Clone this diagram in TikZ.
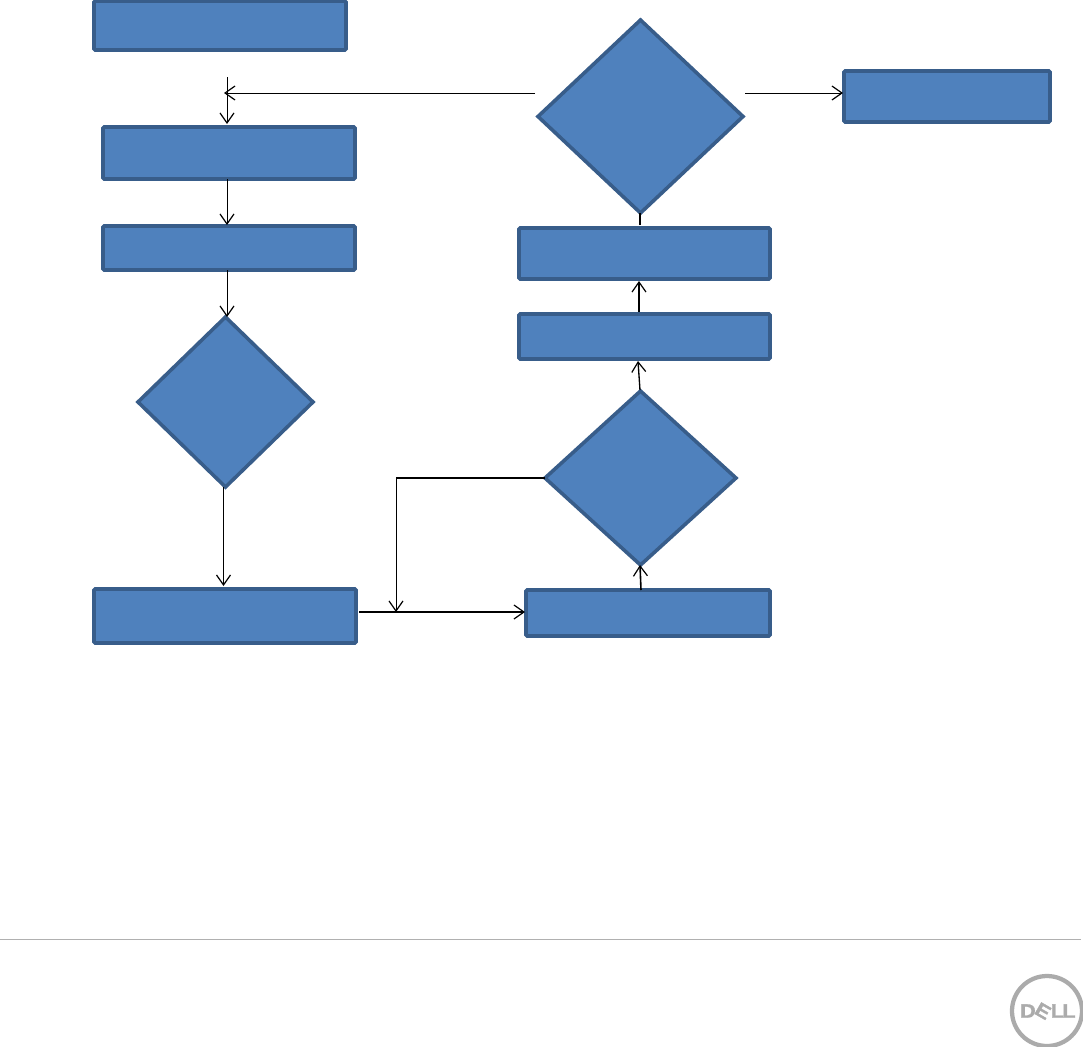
\documentclass[tikz,border=0pt]{standalone}
\usepackage{fontspec}
\setmainfont{Liberation Sans}
\newfontfamily\logofont[UprightFont=* Bold,FakeBold=1.5,FakeStretch=1.12]{Liberation Sans}
\usetikzlibrary{shapes.geometric,arrows.meta}
\definecolor{boxfill}{HTML}{4F81BD}
\definecolor{boxline}{HTML}{385D8A}
\definecolor{logogrey}{HTML}{ABABAB}
\definecolor{rulegrey}{HTML}{B0B0B0}
\tikzset{
  x=0.75pt,y=-0.75pt,
  flowbox/.style={draw=boxline,fill=boxfill,line width=2.7pt,rounded corners=0.8pt,inner sep=0pt,outer sep=0pt},
  flowdia/.style={draw=boxline,fill=boxfill,line width=2.7pt,shape=diamond,inner sep=0pt,outer sep=0pt},
  thinlink/.style={draw=black,line width=0.75pt,-{Straight Barb[length=7.5pt,width=10.5pt,line width=0.9pt]}},
  thicklink/.style={draw=black,line width=1.2pt,-{Straight Barb[length=7.5pt,width=10.5pt,line width=0.9pt]}},
  plainlink/.style={draw=black,line width=1.2pt},
  logoletter/.style={text=logogrey,font=\logofont\fontsize{14.5pt}{14.5pt}\selectfont,inner sep=0pt,outer sep=0pt},
}
\newcommand{\rbox}[5]{\node[flowbox,minimum width=#4*0.75pt,minimum height=#5*0.75pt] (#1) at (#2,#3) {};}
\newcommand{\rdia}[5]{\pgfmathsetmacro{\diaasp}{#4/#5}\node[flowdia,aspect=\diaasp,minimum width=#4*0.75pt,minimum height=#5*0.75pt] (#1) at (#2,#3) {};}
\begin{document}
\begin{tikzpicture}
\useasboundingbox (0,0) rectangle (1083,1047);
\rbox{a}{220}{25.5}{252}{49}
\rbox{b}{229}{153}{252}{52}
\rbox{c}{229}{248}{252}{44}
\rdia{d}{225.5}{402}{175}{170}
\rbox{e}{225}{616}{262}{54}
\rbox{f}{648}{613}{244}{46}
\rdia{g}{640.5}{478}{191}{174}
\rbox{h}{644.5}{336.5}{251}{45}
\rbox{i}{644.5}{253.5}{251}{51}
\rdia{j}{640.5}{116.5}{205}{193}
\rbox{k}{947}{96.5}{206}{51}
% free ends and junctions
\coordinate (topstart) at (227,77);
\coordinate (bin) at (227,124);
\coordinate (jleft) at (535,93);
\coordinate (merge) at (224,93);
\coordinate (jright) at (745,93);
\coordinate (kin) at (843,93);
\coordinate (bout) at (227,179);
\coordinate (cin) at (227,225);
\coordinate (cout) at (227,270);
\coordinate (dbot) at (223.5,487);
\coordinate (ein) at (223.5,586);
\coordinate (eout) at (359,612);
\coordinate (fin) at (525,612);
\coordinate (fork) at (396,478);
\coordinate (drop) at (396,612);
\coordinate (fout) at (641,590);
\coordinate (gin) at (640,565);
\coordinate (gout) at (640,390);
\coordinate (hin) at (638,361);
\coordinate (hout) at (639,312);
\coordinate (iin) at (639,281);
\coordinate (iout) at (640,225);
\coordinate (jin) at (640,213);
\draw[thinlink] (topstart) -- (bin);
\draw[thinlink] (jleft) -- (merge);
\draw[thinlink] (jright) -- (kin);
\draw[thinlink] (bout) -- (cin);
\draw[thinlink] (cout) -- (d.north -| cout);
\draw[thinlink] (dbot) -- (ein);
\draw[thicklink] (eout) -- (fin);
\draw[plainlink] (g.west) -- (fork);
\draw[thinlink] (fork) -- (drop);
\draw[thicklink] (fout) -- (gin);
\draw[thinlink,line width=1pt] (gout) -- (hin);
\draw[thicklink] (hout) -- (iin);
\draw[plainlink] (iout) -- (jin);
% footer rule
\coordinate (ruleL) at (0,939);
\coordinate (ruleR) at (1081,939);
\draw[rulegrey,line width=0.75pt] (ruleL) -- (ruleR);
% logo
\node[draw=logogrey,line width=3.2pt,circle,minimum size=52.5pt,inner sep=0pt,outer sep=0pt] (logo) at (1047,1011) {};
\node[logoletter] (ld) at (1028,1011) {D};
\node[logoletter,rotate=-30] (le) at (1043,1011) {E};
\node[logoletter] (ll1) at (1057.5,1011) {L};
\node[logoletter] (ll2) at (1069,1011) {L};
\end{tikzpicture}
\end{document}
